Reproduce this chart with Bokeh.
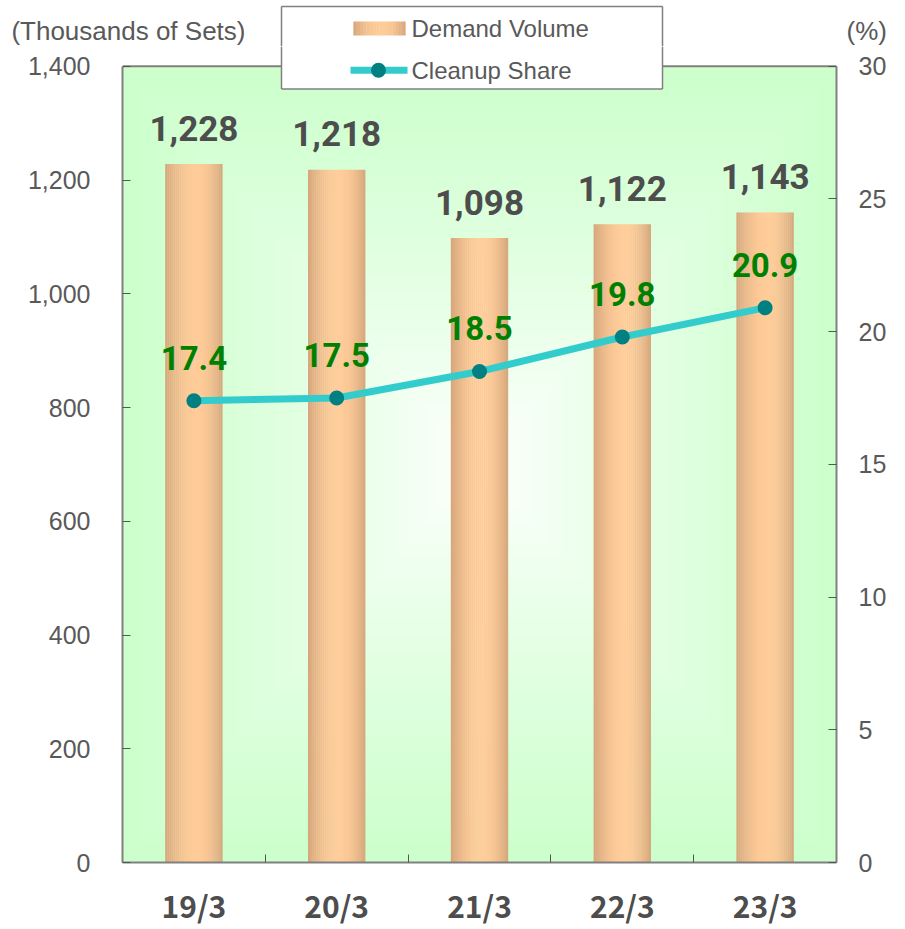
import numpy as np
from bokeh.plotting import figure
from bokeh.layouts import column
from bokeh.models import Range1d, LinearAxis, FixedTicker, NumeralTickFormatter, ColumnDataSource
from bokeh.core.properties import value
from bokeh.embed import file_html
from bokeh.resources import INLINE

# ---------------- data ----------------
categories = ["19/3", "20/3", "21/3", "22/3", "23/3"]
demand = [1228, 1218, 1098, 1122, 1143]          # thousands of sets
share = [17.4, 17.5, 18.5, 19.8, 20.9]           # %
left_ticks = [0, 200, 400, 600, 800, 1000, 1200, 1400]
right_ticks = [0, 5, 10, 15, 20, 25, 30]
left_max = 1400
right_max = 30
left_title = "(Thousands of Sets)"
right_title = "(%)"
legend_labels = ["Demand Volume", "Cleanup Share"]

# ---------------- geometry (page pixels) ----------------
W = 905
HEAD_H = 46          # header strip with axis titles
MAIN_H = 929 - HEAD_H
FR_L, FR_R = 122, 836
FR_TOP_VIS, FR_BOT = 66, 872
frame_h = FR_BOT - HEAD_H
vis_h = FR_BOT - FR_TOP_VIS
y_end = left_max * frame_h / vis_h
pct_end = right_max * frame_h / vis_h

TXT = "#595959"
GRAY = "#808080"
BAR_EDGE = np.array([212, 166, 124])
BAR_PEAK = np.array([255, 204, 153])


def bar_colour(u, pk=0.55):
    s = (u - pk) / (pk if u < pk else 1 - pk)
    c = BAR_EDGE + (BAR_PEAK - BAR_EDGE) * (1 - s * s)
    return "#%02x%02x%02x" % tuple(int(round(v)) for v in c)


def style_title_axis(a, standoff, align, size):
    a.axis_line_color = None
    a.major_tick_line_color = None
    a.minor_tick_line_color = None
    a.major_tick_in = 0
    a.major_tick_out = 0
    a.major_label_standoff = standoff
    a.major_label_text_align = align
    a.major_label_text_font = "Liberation Sans"
    a.major_label_text_font_size = size
    a.major_label_text_color = TXT


# ================= header figure (axis titles + upper part of legend) =================
hd = figure(width=W, height=HEAD_H, x_range=Range1d(FR_L, FR_R), y_range=Range1d(HEAD_H, 0),
            x_axis_location=None, y_axis_location="left", output_backend="svg",
            toolbar_location=None, min_border_left=FR_L, min_border_right=W - FR_R,
            min_border_top=0, min_border_bottom=0)
hd.outline_line_color = None
hd.grid.visible = False
hd.background_fill_color = "white"
hd.border_fill_color = "white"

la = hd.yaxis[0]
la.ticker = FixedTicker(ticks=[32])
la.major_label_overrides = {32: left_title}
style_title_axis(la, -123, "right", "26px")

ra = LinearAxis(ticker=FixedTicker(ticks=[32]), major_label_overrides={32: right_title})
style_title_axis(ra, 10, "left", "26px")
hd.add_layout(ra, "right")

# legend box (upper part)
hd.segment(x0=[281, 281, 662], y0=[6, 6, 6], x1=[662, 281, 662], y1=[6, HEAD_H, HEAD_H],
           line_color=GRAY, line_width=1.5)
n_sw = 16
sw_l, sw_r = 353, 405
sw_w = (sw_r - sw_l) / n_sw
for k in range(n_sw):
    cx = sw_l + (k + 0.5) * sw_w
    hd.rect(x=[cx], y=[28], width=sw_w * 1.1, height=14, fill_color=bar_colour((k + 0.5) / n_sw),
            line_color=None)
hd.text(x=[411], y=[28], text=[legend_labels[0]], text_align="left", text_baseline="middle",
        text_font=value("Liberation Sans"), text_font_size="24px", text_color=TXT)

# ================= main figure =================
p = figure(width=W, height=MAIN_H, x_range=Range1d(0, len(categories)), y_range=Range1d(0, y_end),
           output_backend="svg", toolbar_location=None,
           min_border_left=FR_L, min_border_right=W - FR_R, min_border_top=0,
           min_border_bottom=MAIN_H - frame_h)
p.extra_y_ranges = {"pct": Range1d(0, pct_end), "py": Range1d(FR_BOT, HEAD_H)}
p.extra_x_ranges = {"px": Range1d(FR_L, FR_R)}
p.xgrid.visible = False
p.ygrid.visible = False
p.background_fill_color = "white"
p.border_fill_color = "white"
p.outline_line_color = None

centers = [i + 0.5 for i in range(len(categories))]

# background gradient (rectangular, white centre -> light green edges)
nx, ny = 240, 240
GX, GY = np.meshgrid(np.linspace(-1, 1, nx), np.linspace(-1, 1, ny))
t = np.clip(np.maximum(np.abs(GX), np.abs(GY)), 0, 1) ** 0.85
img = np.empty((ny, nx), dtype=np.uint32)
view = img.view(dtype=np.uint8).reshape((ny, nx, 4))
view[:, :, 0] = (255 - 51 * t).astype(np.uint8)
view[:, :, 1] = 255
view[:, :, 2] = (255 - 51 * t).astype(np.uint8)
view[:, :, 3] = 255
p.image_rgba(image=[img], x=0, y=0, dw=len(categories), dh=left_max)

# top border of the plot area
p.segment(x0=[0], y0=[left_max], x1=[len(categories)], y1=[left_max], line_color=GRAY, line_width=2)

# bars with horizontal gradient (thin strips)
bar_w = 0.4
n_strips = 28
strip_w = bar_w / n_strips
for k in range(n_strips):
    off = -bar_w / 2 + (k + 0.5) * strip_w
    p.vbar(x=[cx + off for cx in centers], top=demand, bottom=0,
           width=strip_w * 1.15, fill_color=bar_colour((k + 0.5) / n_strips), line_color=None)

# line
p.line(x=centers, y=share, y_range_name="pct", line_color="#33CCCC", line_width=7)
p.scatter(x=centers, y=share, y_range_name="pct", size=15, fill_color="#008080", line_color=None)

# data labels
bar_src = ColumnDataSource(dict(x=centers, y=demand, t=["{:,}".format(v) for v in demand]))
p.text(x="x", y="y", text="t", source=bar_src, text_align="center", text_baseline="middle",
       y_offset=-36, text_font=value("Roboto"), text_font_style="bold",
       text_font_size="35px", text_color="#4D4D4D")
line_src = ColumnDataSource(dict(x=centers, y=share, t=["%.1f" % v for v in share]))
p.text(x="x", y="y", text="t", source=line_src, y_range_name="pct", text_align="center",
       text_baseline="middle", y_offset=-43, text_font=value("Roboto"),
       text_font_style="bold", text_font_size="33px", text_color="#008000")

# legend box (lower part) drawn over the plot area
p.quad(left=[281], right=[662], top=[HEAD_H], bottom=[89], x_range_name="px", y_range_name="py",
       fill_color="white", line_color=None)
p.segment(x0=[281, 662, 281], y0=[HEAD_H, HEAD_H, 89], x1=[281, 662, 662], y1=[89, 89, 89],
          x_range_name="px", y_range_name="py", line_color=GRAY, line_width=1.5)
p.segment(x0=[350], y0=[70], x1=[407], y1=[70], x_range_name="px", y_range_name="py",
          line_color="#33CCCC", line_width=7)
p.scatter(x=[378], y=[70], x_range_name="px", y_range_name="py", size=15,
          fill_color="#008080", line_color=None)
p.text(x=[411], y=[70], text=[legend_labels[1]], x_range_name="px", y_range_name="py",
       text_align="left", text_baseline="middle", text_font=value("Liberation Sans"),
       text_font_size="24px", text_color=TXT)

# ---------------- axes ----------------
ax = p.xaxis[0]
ax.ticker = FixedTicker(ticks=centers, minor_ticks=[1, 2, 3, 4])
ax.major_label_overrides = {c: lab for c, lab in zip(centers, categories)}
ax.major_tick_in = 0
ax.major_tick_out = 0
ax.minor_tick_in = 8
ax.minor_tick_out = 0
ax.minor_tick_line_color = "#555555"
ax.axis_line_color = GRAY
ax.axis_line_width = 2
ax.major_label_standoff = 20
ax.major_label_text_font = "Noto Sans CJK JP"
ax.major_label_text_font_style = "bold"
ax.major_label_text_font_size = "30px"
ax.major_label_text_color = "#4D4D4D"

ay = p.yaxis[0]
ay.ticker = FixedTicker(ticks=left_ticks)
ay.bounds = (0, left_max)
ay.formatter = NumeralTickFormatter(format="0,0")
ay.major_tick_in = 8
ay.major_tick_out = 0
ay.minor_tick_line_color = None
ay.major_tick_line_color = "#555555"
ay.axis_line_color = GRAY
ay.axis_line_width = 2
ay.major_label_standoff = 32
ay.major_label_text_font = "Liberation Sans"
ay.major_label_text_font_size = "25px"
ay.major_label_text_color = TXT

ry = LinearAxis(y_range_name="pct", ticker=FixedTicker(ticks=right_ticks), bounds=(0, right_max))
ry.major_tick_in = 8
ry.major_tick_out = 0
ry.minor_tick_line_color = None
ry.major_tick_line_color = "#555555"
ry.axis_line_color = GRAY
ry.axis_line_width = 2
ry.major_label_standoff = 22
ry.major_label_text_font = "Liberation Sans"
ry.major_label_text_font_size = "25px"
ry.major_label_text_color = TXT
p.add_layout(ry, "right")

layout = column(hd, p, spacing=0)
open("out.html", "w").write(file_html(layout, INLINE))
